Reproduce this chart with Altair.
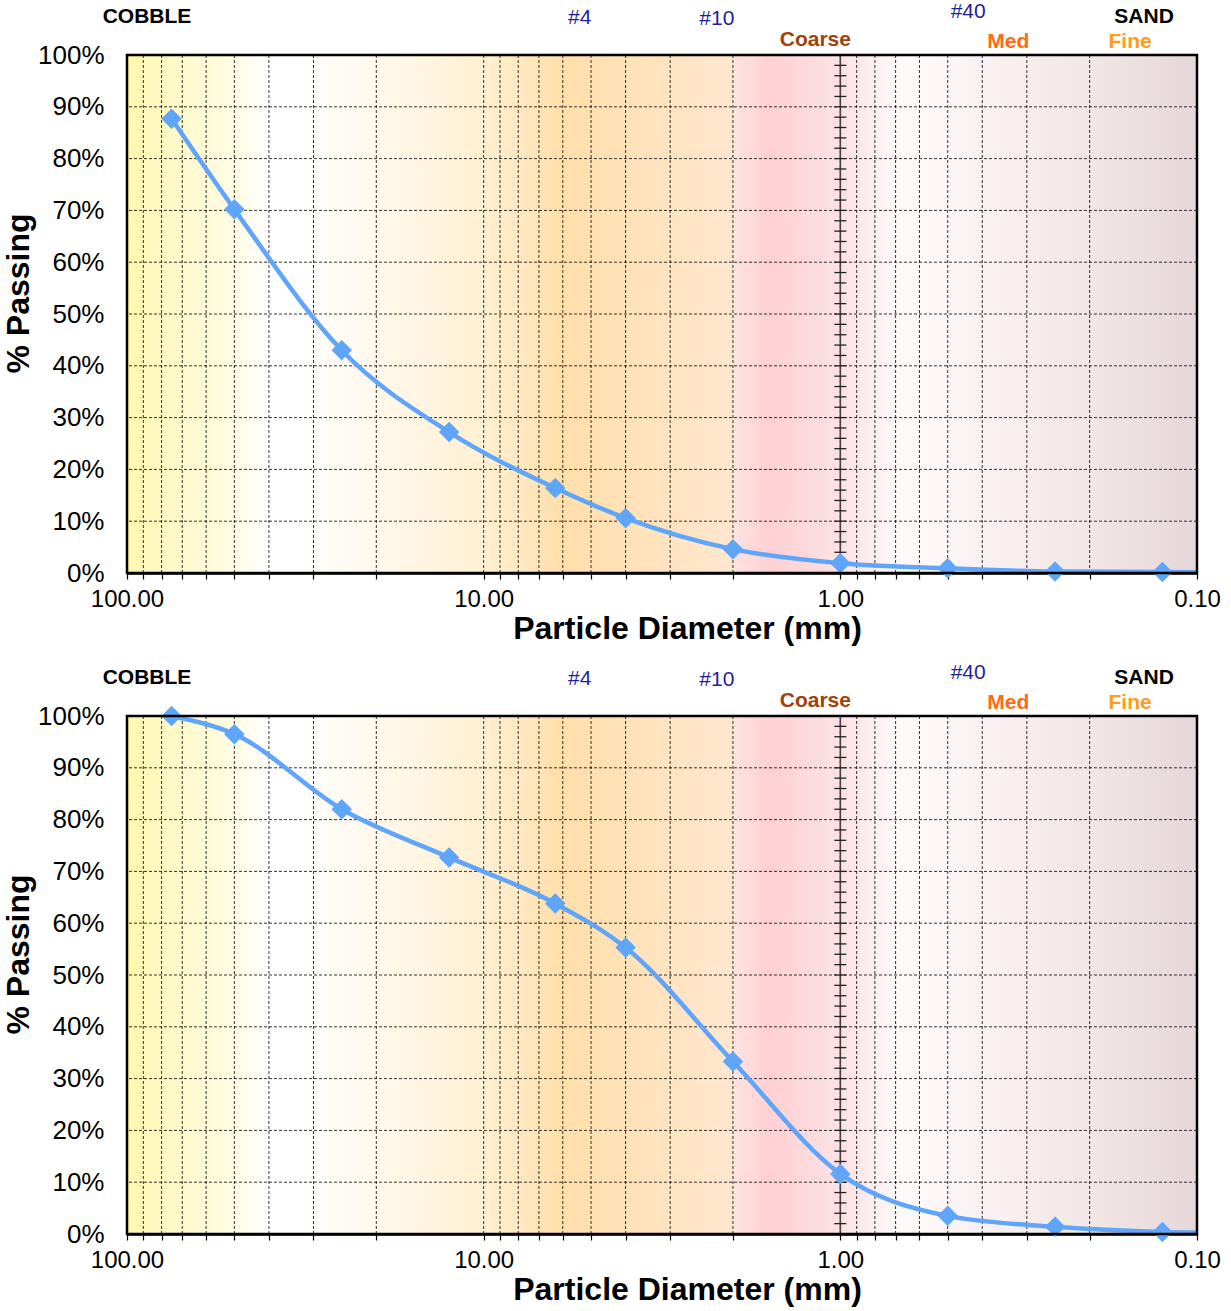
import math
import altair as alt
import pandas as pd

# ---------------- data ----------------
sieve_mm = [75.0, 50.0, 25.0, 12.5, 6.3, 4.0, 2.0, 1.0, 0.5, 0.25, 0.125, 0.075]
passing_top = [0.877, 0.702, 0.430, 0.272, 0.164, 0.106, 0.046, 0.019, 0.009, 0.003, 0.002, 0.001]
passing_bottom = [1.000, 0.965, 0.820, 0.727, 0.638, 0.553, 0.333, 0.116, 0.035, 0.014, 0.004, 0.002]

grid_mm = [0.2, 0.3, 0.4, 0.5, 0.6, 0.7, 0.8, 0.9, 1, 2, 3, 4, 5, 6, 7, 8, 9,
           10, 20, 30, 40, 50, 60, 70, 80, 90]
axis_tick_mm = [0.1] + grid_mm + [100]
grid_pct = [0.1, 0.2, 0.3, 0.4, 0.5, 0.6, 0.7, 0.8, 0.9]
y_tick_pct = [0.0, 0.1, 0.2, 0.3, 0.4, 0.5, 0.6, 0.7, 0.8, 0.9, 1.0]
minor_pct = [i / 50 for i in range(51)]

class_labels = ["COBBLE", "Coarse", "Med", "SAND", "Fine"]
class_x = [87.9, 1.175, 0.338, 0.1407, 0.154]
class_y = [1.073, 1.029, 1.025, 1.073, 1.025]
class_colors = ["#000000", "#A3410C", "#FF6A12", "#000000", "#FF9C1A"]

sieve_labels = ["#4", "#10", "#40"]
sieve_x = [5.38, 2.22, 0.438]
sieve_y = [1.071, 1.069, 1.083]

# background gradient stops (mm, colour)
bg_stops = [(100, "#FFF7A6"), (90, "#FFF8BA"), (70, "#FFFACD"), (50, "#FFFCE4"),
            (40, "#FFFFFF"), (33, "#FFFFFF"),
            (10, "#FFF0D2"), (6.0, "#FFDFAA"), (2.02, "#FFE7CF"), (1.98, "#FDE3E0"),
            (1.58, "#FFD0D3"), (1.0, "#FBE2E4"), (0.66, "#FFFAFA"), (0.2, "#F2E6E6"),
            (0.1, "#E5D7D7")]

BLUE = "#5FA5F9"
FONT = "Liberation Sans"
W, H = 1070, 518


def offset(mm):
    return math.log10(100.0 / mm) / 3.0


gradient = alt.LinearGradient(
    gradient="linear",
    stops=[alt.GradientStop(offset=offset(m), color=c) for m, c in bg_stops],
    x1=0, x2=1, y1=0, y2=0,
)

xscale = alt.Scale(type="log", domain=[0.1, 100], reverse=True, nice=False)
yscale = alt.Scale(domain=[0, 1], nice=False)

xaxis = alt.Axis(
    values=axis_tick_mm,
    labelExpr="abs(log(datum.value)/LN10 - round(log(datum.value)/LN10)) < 0.000001 ? format(datum.value, '.2f') : ''",
    grid=False, tickSize=6, tickColor="black", tickWidth=1.2,
    labelFontSize=24, labelColor="black", labelFont=FONT, labelPadding=8,
    labelFlush=False, labelOverlap=False,
    title="Particle Diameter (mm)", titleFontSize=32, titleFont=FONT,
    titleFontWeight="bold", titleColor="black", titlePadding=2,
    titleX=560, titleAlign="center",
    domainColor="black", domainWidth=2.5,
)
yaxis = alt.Axis(
    values=y_tick_pct, format=".0%", grid=False, ticks=False,
    labelFontSize=26, labelColor="black", labelFont=FONT, labelPadding=23,
    labelFlush=False, labelOverlap=False,
    title="% Passing", titleFontSize=32, titleFont=FONT, titleFontWeight="bold",
    titleColor="black", titlePadding=2, titleY=238, titleAlign="center",
    domainColor="black", domainWidth=2.5,
)


def panel(passing):
    df = pd.DataFrame({"mm": sieve_mm, "passing": passing})
    one = pd.DataFrame({"mm": [0.1], "mm2": [100.0], "passing": [0.0], "p2": [1.0]})

    bg = alt.Chart(one).mark_rect(fill=gradient).encode(
        x=alt.X("mm:Q", scale=xscale, axis=xaxis),
        x2="mm2:Q",
        y=alt.Y("passing:Q", scale=yscale, axis=yaxis),
        y2="p2:Q",
    )
    vgrid = alt.Chart(pd.DataFrame({"mm": grid_mm})).mark_rule(
        color="black", strokeWidth=0.8, strokeDash=[3, 2]
    ).encode(x="mm:Q")
    hgrid = alt.Chart(pd.DataFrame({"passing": grid_pct})).mark_rule(
        color="black", strokeWidth=0.8, strokeDash=[3, 2]
    ).encode(y="passing:Q")
    vline = alt.Chart(pd.DataFrame({"mm": [1.0]})).mark_rule(
        color="#444444", strokeWidth=1.6
    ).encode(x="mm:Q")
    ticks = alt.Chart(pd.DataFrame({"mm": [1.0] * len(minor_pct), "passing": minor_pct})).mark_rule(
        color="#222222", strokeWidth=1.3, xOffset=-6, x2Offset=6
    ).encode(x="mm:Q", x2="mm:Q", y="passing:Q")
    line = alt.Chart(df).mark_line(
        color=BLUE, strokeWidth=4.5, interpolate="monotone", clip=True
    ).encode(
        x="mm:Q", y="passing:Q", order=alt.Order("mm:Q", sort="descending")
    )
    pts = alt.Chart(df).transform_filter("datum.mm >= 0.1").mark_point(
        shape="diamond", filled=True, size=420, color=BLUE, opacity=1
    ).encode(x="mm:Q", y="passing:Q")
    frame = alt.Chart(one).mark_rect(
        filled=False, stroke="black", strokeWidth=2.5
    ).encode(x="mm:Q", x2="mm2:Q", y="passing:Q", y2="p2:Q")
    cls = alt.Chart(pd.DataFrame({"mm": class_x, "passing": class_y,
                                  "t": class_labels, "c": class_colors})).mark_text(
        font=FONT, fontSize=21, fontWeight="bold", baseline="middle", align="center"
    ).encode(x="mm:Q", y="passing:Q", text="t:N", color=alt.Color("c:N", scale=None))
    sv = alt.Chart(pd.DataFrame({"mm": sieve_x, "passing": sieve_y, "t": sieve_labels})).mark_text(
        font=FONT, fontSize=21, color="#1F1F9C", baseline="middle", align="center"
    ).encode(x="mm:Q", y="passing:Q", text="t:N")

    return alt.layer(bg, vgrid, hgrid, vline, ticks, line, pts, frame, cls, sv).properties(
        width=W, height=H
    )


chart = alt.vconcat(panel(passing_top), panel(passing_bottom), spacing=18).properties(
    padding={"left": 2, "top": 1, "right": 4, "bottom": 2}
).configure_view(stroke=None)

chart.save("out.html", embed_options={"renderer": "svg", "actions": False})
